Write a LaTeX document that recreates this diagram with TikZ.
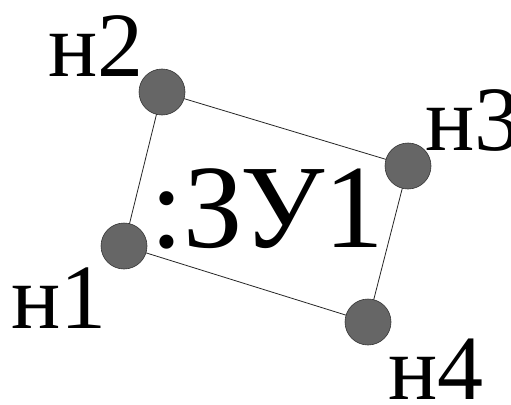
\documentclass[tikz,border=0pt]{standalone}
\usepackage{fontspec}
\setmainfont{Liberation Serif}
\begin{document}
\begin{tikzpicture}[x=1pt,y=-1pt,
  ball/.style={circle,minimum size=46pt,inner sep=0pt,fill=black!60,draw=black!80,line width=0.6pt},
  lbl/.style={inner sep=0pt,anchor=base west,font=\fontsize{92}{92}\selectfont},
  big/.style={inner sep=0pt,anchor=base west,font=\fontsize{119}{119}\selectfont},
  edge/.style={draw=black!85,line width=0.8pt}]
\useasboundingbox (0,0) rectangle (511,404);
\fill[white] (0,0) rectangle (511,404);
\coordinate (c2) at (162,92);
\coordinate (c3) at (408,166);
\coordinate (c1) at (124,246);
\coordinate (c4) at (368,322);
\draw[edge] (c2) -- (c3) -- (c4) -- (c1) -- cycle;
\node[ball] (b2) at (c2) {};
\node[ball] (b3) at (c3) {};
\node[ball] (b1) at (c1) {};
\node[ball] (b4) at (c4) {};
\node[big] (t) at (150,247) {:ЗУ1};
\node[lbl] (l2) at (48,77) {н2};
\node[lbl] (l3) at (425,150) {н3};
\node[lbl] (l1) at (11,328) {н1};
\node[lbl] (l4) at (388,399) {н4};
\end{tikzpicture}
\end{document}
